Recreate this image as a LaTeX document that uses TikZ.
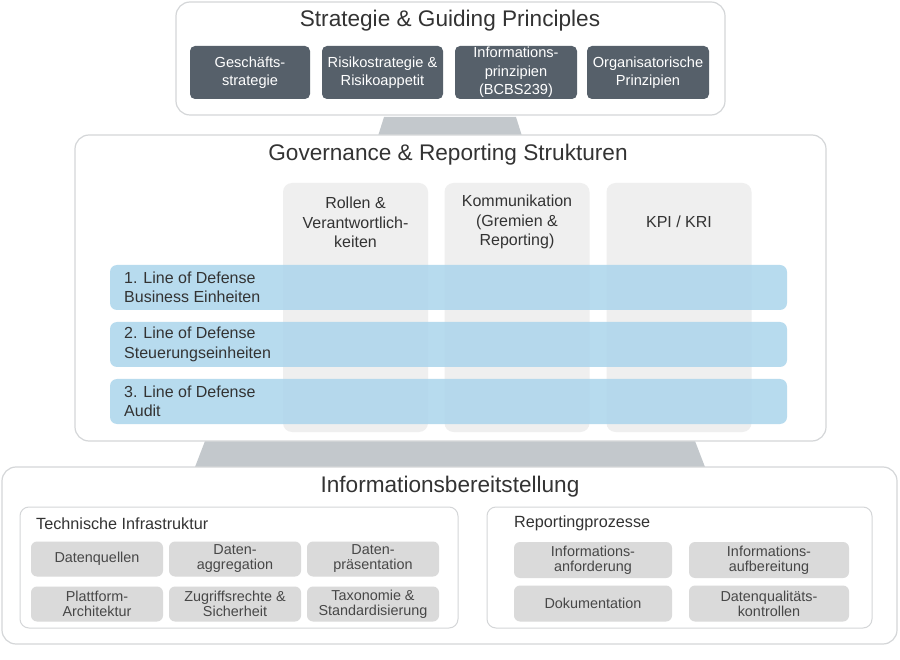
\documentclass[tikz,border=0pt]{standalone}
\usepackage{fontspec}
\setmainfont{Liberation Sans}
\usetikzlibrary{calc}
\definecolor{slate}{HTML}{56606A}
\definecolor{frame}{HTML}{D4D6D8}
\definecolor{pillar}{HTML}{EFEFEF}
\definecolor{cell}{HTML}{DADADA}
\definecolor{band}{HTML}{ABD5EC}
\definecolor{stand}{HTML}{C3C8CC}
\definecolor{ink}{HTML}{333333}
\tikzstyle{panel}=[draw=frame,fill=white,line width=1.2pt,rounded corners=14pt,inner sep=0pt]
\tikzstyle{subpanel}=[draw=frame,fill=white,line width=1pt,rounded corners=9pt,inner sep=0pt]
\tikzstyle{darkbox}=[fill=slate,rounded corners=5pt,text=white,align=center,inner sep=0pt,minimum height=53pt,font=\fontsize{14.6}{18.5}\selectfont]
\tikzstyle{column}=[fill=pillar,rounded corners=9pt,inner sep=0pt,minimum width=145pt,minimum height=249pt]
\tikzstyle{lod}=[fill=band,fill opacity=0.85,text opacity=1,rounded corners=7pt,inner sep=0pt,minimum width=677pt,minimum height=45pt]
\tikzstyle{greybox}=[fill=cell,rounded corners=6pt,inner sep=0pt,align=center,text=ink!90,font=\fontsize{14.4}{15}\selectfont]
\tikzstyle{heading}=[text=ink,font=\fontsize{22.6}{26}\selectfont,inner sep=0pt]
\tikzstyle{subheading}=[text=ink,font=\fontsize{16.2}{19}\selectfont,inner sep=0pt,anchor=west]
\tikzstyle{coltext}=[text=ink,align=center,font=\fontsize{16}{19.5}\selectfont,inner sep=0pt]
\tikzstyle{lodtext}=[text=ink,align=left,font=\fontsize{16}{19.5}\selectfont,inner sep=0pt,anchor=west]

\begin{document}
\begin{tikzpicture}[x=1pt,y=-1pt]
\useasboundingbox (0,0) rectangle (900,660);

% stands between the panels
\fill[stand] (384,117) -- (516,117) -- (522,136) -- (378,136) -- cycle;
\fill[stand] (205,441) -- (695,441) -- (705,467) -- (195,467) -- cycle;

% strategy panel
\node[panel,minimum width=549pt,minimum height=113pt] (strat) at (450.5,58.5) {};
\node[heading] (stratT) at (450,21) {Strategie \& Guiding Principles};
\node[darkbox,minimum width=120pt] (gs) at (250,72.5) {Gesch\"afts-\\strategie};
\node[darkbox,minimum width=121pt] (rs) at (382.5,72.5) {Risikostrategie \&\\Risikoappetit};
\node[darkbox,minimum width=122pt] (ip) at (516,72.5) {Informations-\\prinzipien\\(BCBS239)};
\node[darkbox,minimum width=122pt] (op) at (648,72.5) {Organisatorische\\Prinzipien};

% governance panel
\node[panel,minimum width=751pt,minimum height=306pt] (gov) at (450.5,288) {};
\node[heading] (govT) at (448,155) {Governance \& Reporting Strukturen};
\node[column] (c1) at (355.5,307.5) {};
\node[column] (c2) at (517,307.5) {};
\node[column] (c3) at (679,307.5) {};
\node[coltext] (c1t) at (355.5,222.5) {Rollen \&\\Verantwortlich-\\keiten};
\node[coltext] (c2t) at (517,222) {Kommunikation\\(Gremien \&\\Reporting)};
\node[coltext] (c3t) at (679,222) {KPI / KRI};
\node[lod] (l1) at (448.5,287.5) {};
\node[lod] (l2) at (448.5,344.5) {};
\node[lod] (l3) at (448.5,401.5) {};
\node[lodtext] (l1t) at (124,287.5) {1. Line of Defense\\Business Einheiten};
\node[lodtext] (l2t) at (124,344.5) {2. Line of Defense\\Steuerungseinheiten};
\node[lodtext] (l3t) at (124,401.5) {3. Line of Defense\\Audit};

% information panel
\node[panel,minimum width=895pt,minimum height=177pt] (info) at (449.5,555.5) {};
\node[heading] (infoT) at (450,487) {Informationsbereitstellung};

\node[subpanel,minimum width=438pt,minimum height=121pt] (tech) at (239,567.5) {};
\node[subheading] (techT) at (36,524) {Technische Infrastruktur};
\node[greybox,minimum width=132pt,minimum height=35pt] (t1) at (97,559) {Datenquellen};
\node[greybox,minimum width=132pt,minimum height=35pt] (t2) at (235,559) {Daten-\\aggregation};
\node[greybox,minimum width=132pt,minimum height=35pt] (t3) at (373,559) {Daten-\\pr\"asentation};
\node[greybox,minimum width=132pt,minimum height=35pt] (t4) at (97,604) {Plattform-\\Architektur};
\node[greybox,minimum width=132pt,minimum height=35pt] (t5) at (235,604) {Zugriffsrechte \&\\Sicherheit};
\node[greybox,minimum width=132pt,minimum height=35pt] (t6) at (373,604) {Taxonomie \&\\Standardisierung};

\node[subpanel,minimum width=385pt,minimum height=121pt] (rep) at (679.5,567.5) {};
\node[subheading] (repT) at (514,523) {Reportingprozesse};
\node[greybox,minimum width=158pt,minimum height=36pt] (r1) at (593,560) {Informations-\\anforderung};
\node[greybox,minimum width=160pt,minimum height=36pt] (r2) at (769,560) {Informations-\\aufbereitung};
\node[greybox,minimum width=158pt,minimum height=36pt] (r3) at (593,603.5) {Dokumentation};
\node[greybox,minimum width=160pt,minimum height=36pt] (r4) at (769,603.5) {Datenqualit\"ats-\\kontrollen};

\end{tikzpicture}
\end{document}
